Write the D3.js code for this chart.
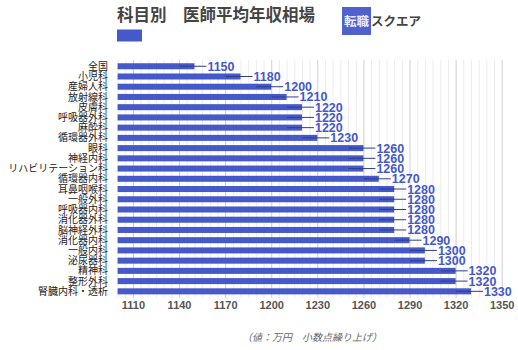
<!DOCTYPE html>
<html><head><meta charset="utf-8">
<script src="https://cdn.jsdelivr.net/npm/d3@7"></script>
<style>
html,body{margin:0;padding:0;background:#fff;}
svg{display:block;}
</style></head>
<body>
<script>
const categories = ["全国","小児科","産婦人科","放射線科","皮膚科","呼吸器外科","麻酔科","循環器外科","眼科","神経内科","リハビリテーション科","循環器内科","耳鼻咽喉科","一般外科","呼吸器内科","消化器外科","脳神経外科","消化器内科","一般内科","泌尿器科","精神科","整形外科","腎臓内科・透析"];
const values = [1150,1180,1200,1210,1220,1220,1220,1230,1260,1260,1260,1270,1280,1280,1280,1280,1280,1290,1300,1300,1320,1320,1330];
const tickValues = [1110,1140,1170,1200,1230,1260,1290,1320,1350];
const xDomain = [1100,1350];
const title = "科目別　医師平均年収相場";
const note = "（値：万円　小数点繰り上げ）";

const W = 518, H = 350;
const barColor = "#4659c9";
const svg = d3.select("body").append("svg").attr("width", W).attr("height", H);

const x = d3.scaleLinear().domain(xDomain).range([117.6, 501.7]);
const y = d3.scaleBand().domain(categories).range([61.2, 296.4]).paddingInner(0.41).paddingOuter(0.2);

// grid
const minor = d3.range(xDomain[0], xDomain[1] + 1, 5);
svg.append("g").selectAll("line").data(minor).join("line")
  .attr("x1", d => x(d) + 0.5).attr("x2", d => x(d) + 0.5)
  .attr("y1", 60).attr("y2", 298)
  .attr("stroke", d => tickValues.includes(d) ? "#cfcfcf" : "#ececec")
  .attr("stroke-width", 1);

// bars
svg.append("g").selectAll("rect").data(values).join("rect")
  .attr("x", x(xDomain[0]))
  .attr("y", (d, i) => y(categories[i]))
  .attr("width", d => x(d) - x(xDomain[0]))
  .attr("height", y.bandwidth())
  .attr("fill", barColor);

// leader lines
svg.append("g").selectAll("line").data(values).join("line")
  .attr("x1", d => x(d) - 15)
  .attr("x2", d => x(d) + 12)
  .attr("y1", (d, i) => y(categories[i]) + y.bandwidth() / 2)
  .attr("y2", (d, i) => y(categories[i]) + y.bandwidth() / 2)
  .attr("stroke", "#2f3d8f").attr("stroke-width", 1);

// value labels
svg.append("g").selectAll("text").data(values).join("text")
  .attr("x", d => x(d) + 13)
  .attr("y", (d, i) => y(categories[i]) + y.bandwidth() / 2)
  .attr("dy", "0.36em")
  .attr("font-family", "Liberation Sans, Arial, sans-serif")
  .attr("font-weight", "bold").attr("font-size", 12.5)
  .attr("fill", "#4659c9")
  .text(d => d);

// category labels
svg.append("g").selectAll("text").data(categories).join("text")
  .attr("x", 108)
  .attr("y", d => y(d) + y.bandwidth() / 2)
  .attr("dy", "0.36em")
  .attr("text-anchor", "end")
  .attr("font-family", "Noto Sans CJK JP, sans-serif")
  .attr("font-size", 10)
  .attr("fill", "#222")
  .text(d => d);

// x axis tick labels
const xAxis = d3.axisBottom(x).tickValues(tickValues).tickSize(0).tickPadding(0).tickFormat(d3.format("d"));
const ax = svg.append("g").attr("transform", "translate(0,301)").call(xAxis);
ax.select(".domain").remove();
ax.selectAll("text")
  .attr("font-family", "Liberation Sans, Arial, sans-serif")
  .attr("font-weight", "bold").attr("font-size", 11)
  .attr("fill", "#555");

// title
svg.append("text").attr("x", 117).attr("y", 21)
  .attr("font-family", "Noto Sans CJK JP, sans-serif")
  .attr("font-weight", "bold").attr("font-size", 16.5)
  .attr("fill", "#444").text(title);

// legend swatch
svg.append("rect").attr("x", 117).attr("y", 29.5).attr("width", 25).attr("height", 12).attr("fill", barColor);

// logo
svg.append("rect").attr("x", 342).attr("y", 7).attr("width", 29).attr("height", 28).attr("fill", "#5061cb");
svg.append("text").attr("x", 356.5).attr("y", 26).attr("text-anchor", "middle")
  .attr("font-family", "Noto Sans CJK JP, sans-serif").attr("font-weight", "bold")
  .attr("font-size", 12.5).attr("fill", "#e8ecff").text("転職");
svg.append("text").attr("x", 371).attr("y", 26)
  .attr("font-family", "Noto Sans CJK JP, sans-serif").attr("font-weight", "bold")
  .attr("font-size", 12.5).attr("fill", "#444").text("スクエア");

// note
svg.append("text").attr("x", 242).attr("y", 341)
  .attr("font-family", "Noto Sans CJK JP, sans-serif")
  .attr("font-style", "italic").attr("font-size", 10)
  .attr("fill", "#666").text(note);
</script>
</body></html>
